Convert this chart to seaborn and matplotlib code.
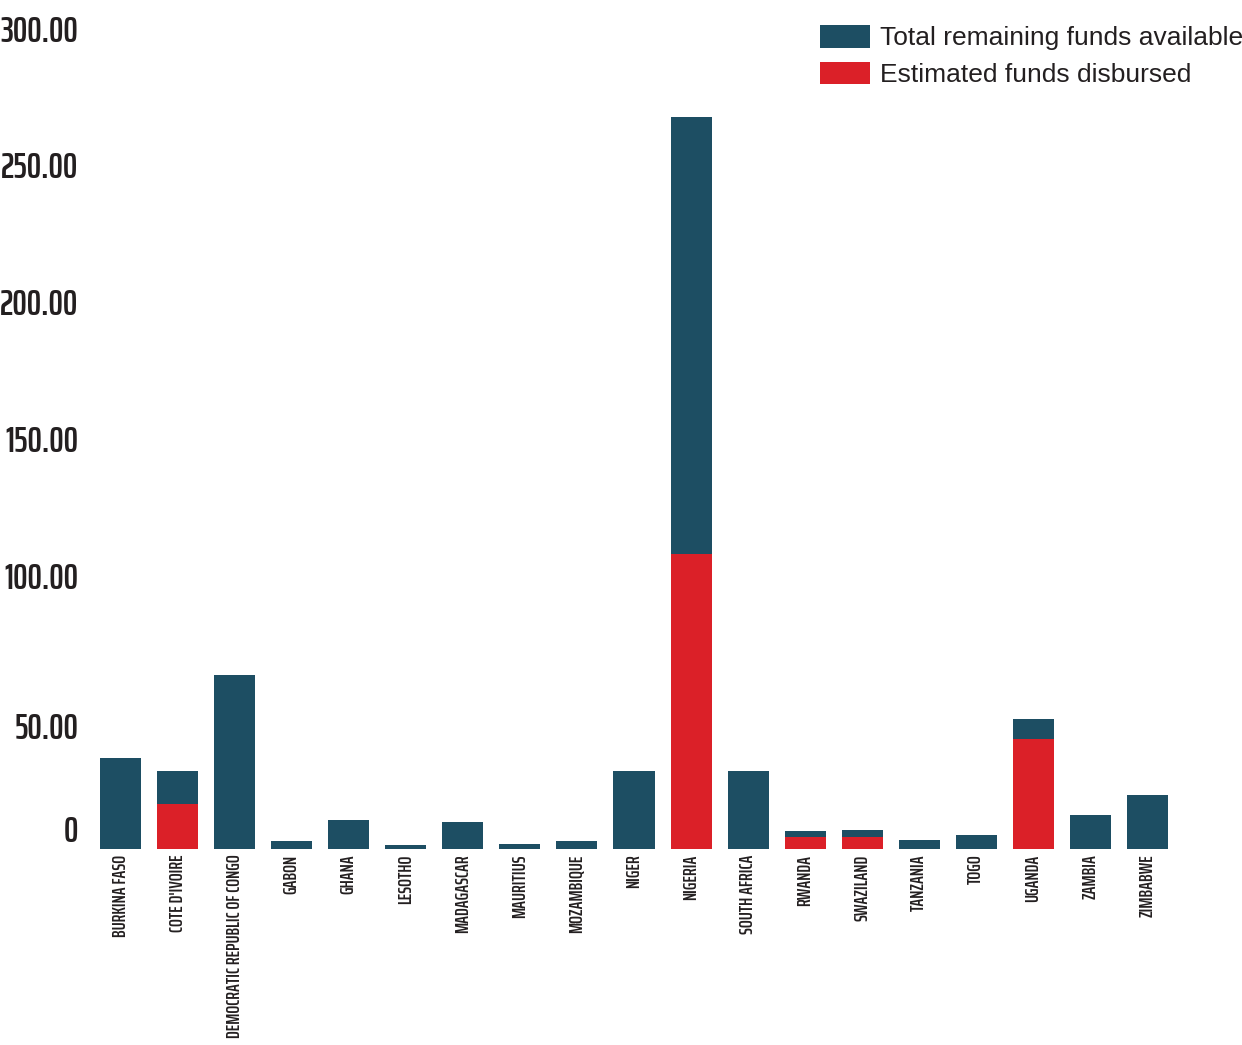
import matplotlib
matplotlib.use("Agg")
import matplotlib.pyplot as plt
import seaborn as sns
import pandas as pd
from matplotlib.patches import Patch

countries = ["BURKINA FASO", "COTE D'IVOIRE", "DEMOCRATIC REPUBLIC OF CONGO", "GABON",
             "GHANA", "LESOTHO", "MADAGASCAR", "MAURITIUS", "MOZAMBIQUE", "NIGER",
             "NIGERIA", "SOUTH AFRICA", "RWANDA", "SWAZILAND", "TANZANIA", "TOGO",
             "UGANDA", "ZAMBIA", "ZIMBABWE"]
total_remaining = [33.2, 28.5, 63.6, 2.9, 10.6, 1.5, 9.9, 1.8, 2.9, 28.5,
                   267.5, 28.5, 6.6, 6.9, 3.3, 5.1, 47.5, 12.4, 19.7]
disbursed = [0, 16.4, 0, 0, 0, 0, 0, 0, 0, 0,
             107.8, 0, 4.4, 4.4, 0, 0, 40.2, 0, 0]
ytick_values = [0, 50, 100, 150, 200, 250, 300]
ytick_labels = ["0", "50.00", "100.00", "150.00", "200.00", "250.00", "300.00"]
legend_labels = ["Total remaining funds available", "Estimated funds disbursed"]

BLUE = "#1d4e63"
RED = "#db2028"
TXT = "#231f20"
COND = ["Saira ExtraCondensed", "DejaVu Sans"]

df = pd.DataFrame({"country": countries, "total": total_remaining, "disbursed": disbursed})

sns.set_theme(style="white")
plt.rcParams["font.family"] = COND

W, H = 1242, 1045
fig = plt.figure(figsize=(W / 100, H / 100), dpi=100)
ax = fig.add_axes([92 / W, 1 - 849 / H, (1176 - 92) / W, (849 - 28) / H])

sns.barplot(data=df, x="country", y="total", color=BLUE, width=0.72, saturation=1,
            linewidth=0, ax=ax)
sns.barplot(data=df, x="country", y="disbursed", color=RED, width=0.72, saturation=1,
            linewidth=0, ax=ax)

ax.set_xlim(-0.5, len(countries) - 0.5)
ax.set_ylim(0, 300)
ax.set_xlabel("")
ax.set_ylabel("")
for s in ax.spines.values():
    s.set_visible(False)

ax.set_yticks(ytick_values)
ax.set_yticklabels(ytick_labels)
ax.tick_params(axis="y", length=0, pad=10, labelsize=26, labelcolor=TXT)
ax.tick_params(axis="x", length=0, pad=4, labelsize=13.5, labelcolor=TXT, rotation=90)
ylabs = ax.get_yticklabels()
for t in ylabs:
    t.set_fontweight("semibold")
ylabs[0].set_va("bottom")
ylabs[1].set_va("top")
for t in ax.get_xticklabels():
    t.set_va("top")
    t.set_ha("center")
    t.set_fontweight("semibold")

handles = [Patch(facecolor=BLUE, edgecolor="none"), Patch(facecolor=RED, edgecolor="none")]
fig.legend(handles, legend_labels, loc="upper left", bbox_to_anchor=(820 / W, 1 - 25 / H),
           frameon=False, borderpad=0, borderaxespad=0, handlelength=1.9, handleheight=0.95,
           handletextpad=0.38, labelspacing=0.42,
           prop={"family": ["Liberation Sans", "DejaVu Sans"], "size": 19}, labelcolor=TXT)

fig.savefig("out.png", dpi=100)
